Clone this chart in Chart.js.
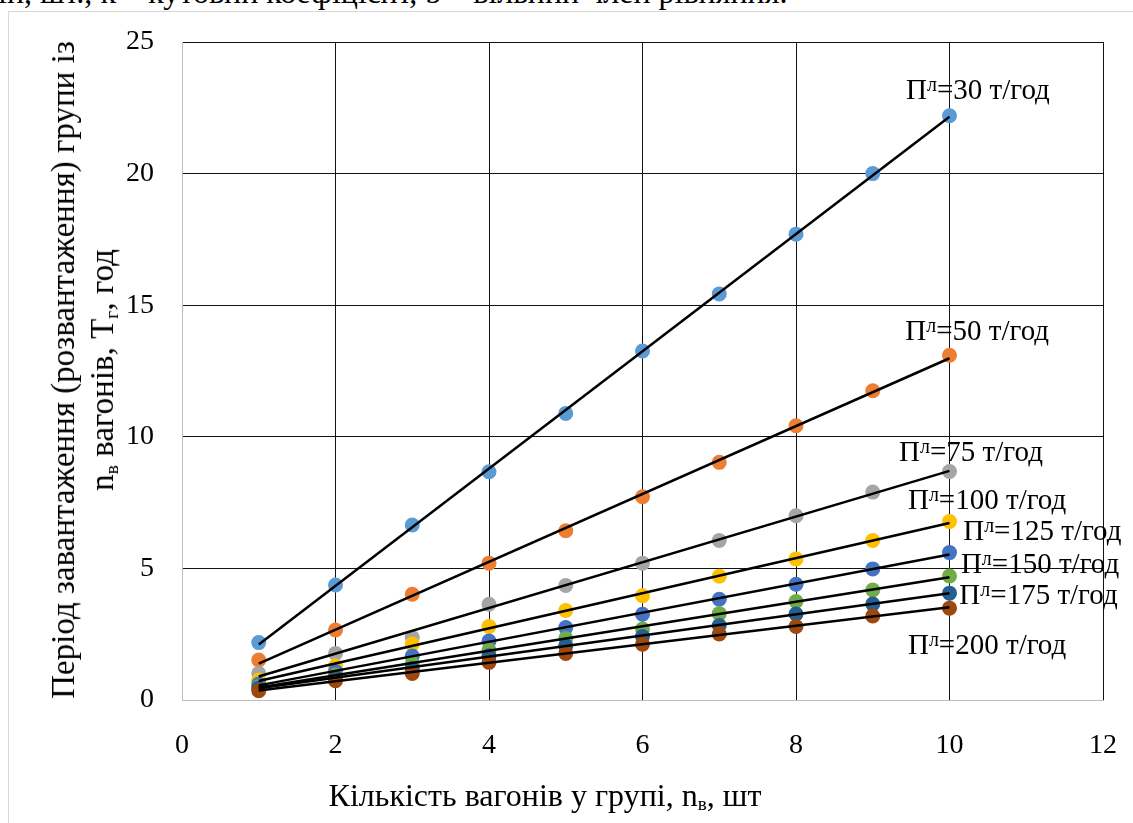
<!DOCTYPE html>
<html>
<head>
<meta charset="utf-8">
<script src="https://cdn.jsdelivr.net/npm/chart.js@4.4.1/dist/chart.umd.min.js"></script>
<style>
  html, body { margin: 0; padding: 0; background: #fff; }
  body { width: 1133px; height: 823px; position: relative; overflow: hidden; font-family: "Liberation Serif", "Times New Roman", serif; color: #000; }
  #frame { position: absolute; left: 8px; top: 11px; width: 1140px; height: 830px; border: 1px solid #d9d9d9; box-sizing: border-box; }
  #wrap { position: absolute; left: 0; top: 0; width: 1133px; height: 823px; }
  .cut { position: absolute; left: -2px; top: -24px; font-size: 32px; line-height: 1; white-space: nowrap; }
  .xtitle { position: absolute; left: 545px; top: 795px; transform: translate(-50%, -50%); font-size: 32px; white-space: nowrap; }
  .ytitle { position: absolute; left: 83px; top: 370px; transform: translate(-50%, -50%) rotate(-90deg); font-size: 33px; line-height: 39px; text-align: center; white-space: nowrap; }
  sub { font-size: 0.6em; vertical-align: -0.25em; line-height: 0; }
</style>
</head>
<body>
<div class="cut">ін, шт., k – кутовий коефіцієнт, b – вільний член рівняння.</div>
<div id="frame"></div>
<div id="wrap"><canvas id="chart" width="1133" height="823"></canvas></div>
<div class="ytitle">Період завантаження (розвантаження) групи із<br>n<sub>в</sub> вагонів, Т<sub>г</sub>, год</div>
<div class="xtitle">Кількість вагонів у групі, n<sub>в</sub>, шт</div>
<script>
// кількість вагонів у групі
const wagons = [1, 2, 3, 4, 5, 6, 7, 8, 9, 10];

// продуктивність навантаження, т/год
const productivity = [30, 50, 75, 100, 125, 150, 175, 200];

// період завантаження групи, год
const period30  = [2.18, 4.37, 6.65, 8.67, 10.89, 13.26, 15.43, 17.7, 20.0, 22.2];
const period50  = [1.52, 2.66, 4.02, 5.2, 6.43, 7.72, 9.03, 10.42, 11.75, 13.1];
const period75  = [1.01, 1.77, 2.37, 3.64, 4.35, 5.2, 6.06, 7.0, 7.9, 8.68];
const period100 = [0.76, 1.29, 2.13, 2.79, 3.4, 3.96, 4.7, 5.36, 6.06, 6.78];
const period125 = [0.61, 1.08, 1.67, 2.24, 2.75, 3.26, 3.83, 4.4, 4.98, 5.6];
const period150 = [0.5, 0.95, 1.39, 1.9, 2.34, 2.7, 3.28, 3.74, 4.18, 4.71];
const period175 = [0.45, 0.86, 1.2, 1.68, 2.06, 2.41, 2.83, 3.27, 3.65, 4.06];
const period200 = [0.35, 0.73, 1.01, 1.43, 1.77, 2.12, 2.51, 2.79, 3.19, 3.49];

const periods = [period30, period50, period75, period100, period125, period150, period175, period200];

// де стоять підписи кривих (в одиницях осей)
const labelX = [10.37, 10.36, 10.28, 10.49, 11.21, 11.18, 11.16, 10.49];
const labelY = [23.2, 14.06, 9.46, 7.64, 6.46, 5.2, 4.03, 2.13];

const xTicks = [0, 2, 4, 6, 8, 10, 12];

const colors = ['#5B9BD5', '#ED7D31', '#A5A5A5', '#FFC000', '#4472C4', '#70AD47', '#255E91', '#9E480E'];

// лінійний тренд як в Excel
function linearFit(xs, ys) {
  const n = xs.length;
  let sx = 0, sy = 0, sxy = 0, sxx = 0;
  for (let i = 0; i < n; i++) {
    sx += xs[i]; sy += ys[i]; sxy += xs[i] * ys[i]; sxx += xs[i] * xs[i];
  }
  const k = (n * sxy - sx * sy) / (n * sxx - sx * sx);
  const b = (sy - k * sx) / n;
  return { k, b };
}

const datasets = [];
periods.forEach((vals, i) => {
  datasets.push({
    type: 'scatter',
    label: `Пл=${productivity[i]} т/год`,
    data: wagons.map((w, j) => ({ x: w, y: vals[j] })),
    backgroundColor: colors[i],
    borderWidth: 0,
    pointRadius: 7.5,
    pointHoverRadius: 7.5,
    order: 100 - i,
  });
});
periods.forEach((vals, i) => {
  const { k, b } = linearFit(wagons, vals);
  const xa = wagons[0], xb = wagons[wagons.length - 1];
  datasets.push({
    type: 'line',
    label: `тренд ${productivity[i]}`,
    data: [{ x: xa, y: k * xa + b }, { x: xb, y: k * xb + b }],
    borderColor: '#000',
    borderWidth: 2.5,
    pointRadius: 0,
    fill: false,
    order: i,
  });
});

const curveLabels = {
  id: 'curveLabels',
  afterDatasetsDraw(chart) {
    const { ctx, scales: { x, y } } = chart;
    const big = '29px "Liberation Serif"';
    const small = '20px "Liberation Serif"';
    ctx.save();
    ctx.fillStyle = '#000';
    ctx.textBaseline = 'alphabetic';
    productivity.forEach((p, i) => {
      const rest = `=${p} т/год`;
      ctx.font = big;
      const wP = ctx.measureText('П').width;
      const wR = ctx.measureText(rest).width;
      ctx.font = small;
      const wL = ctx.measureText('л').width;
      const cx = x.getPixelForValue(labelX[i]);
      const cy = y.getPixelForValue(labelY[i]);
      let left = cx - (wP + wL + wR) / 2;
      const base = cy + 10;
      ctx.font = big;
      ctx.fillText('П', left, base);
      left += wP;
      ctx.font = small;
      ctx.fillText('л', left, base - 8);
      left += wL;
      ctx.font = big;
      ctx.fillText(rest, left, base);
    });
    ctx.restore();
  }
};

new Chart(document.getElementById('chart'), {
  type: 'scatter',
  data: { datasets },
  plugins: [curveLabels],
  options: {
    responsive: false,
    animation: false,
    events: [],
    layout: { padding: { left: 0, top: 42, right: 30, bottom: 0 } },
    plugins: { legend: { display: false }, tooltip: { enabled: false } },
    scales: {
      x: {
        type: 'linear',
        min: 0,
        max: 12,
        afterBuildTicks: (scale) => { scale.ticks = xTicks.map(v => ({ value: v })); },
        afterFit: (scale) => {
          scale.height = 123;
          scale.paddingLeft = 0;
          scale.paddingRight = 0;
        },
        grid: {
          drawTicks: false,
          color: (c) => (c.tick && c.tick.value === 0 ? '#bfbfbf' : '#111'),
          lineWidth: 1,
        },
        border: { color: '#bfbfbf' },
        ticks: { color: '#000', font: { family: 'Liberation Serif', size: 28 }, padding: 29, maxRotation: 0, autoSkip: false },
      },
      y: {
        min: 0,
        max: 25,
        afterFit: (scale) => {
          scale.width = 182;
          scale.paddingTop = 0;
          scale.paddingBottom = 0;
        },
        grid: {
          drawTicks: false,
          color: (c) => (c.tick && c.tick.value === 0 ? '#bfbfbf' : '#111'),
          lineWidth: 1,
        },
        border: { color: '#bfbfbf' },
        ticks: { stepSize: 5, color: '#000', font: { family: 'Liberation Serif', size: 28 }, padding: 28 },
      },
    },
  },
});
</script>
</body>
</html>
